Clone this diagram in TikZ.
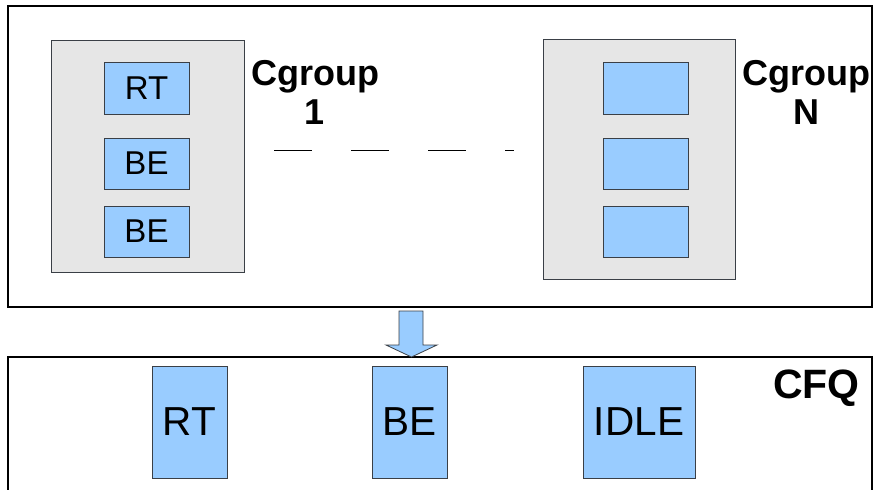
\documentclass[tikz,border=0pt]{standalone}
\usepackage{fontspec}
\setmainfont{Liberation Sans}
\definecolor{procblue}{HTML}{99CCFF}
\definecolor{groupgray}{HTML}{E6E6E6}
\definecolor{edgegray}{HTML}{3A3F46}
\begin{document}
\begin{tikzpicture}[x=1pt,y=-1pt,
  frame/.style={draw=black, line width=1.2pt, rectangle, inner sep=0pt},
  groupbox/.style={draw=edgegray, line width=1pt, fill=groupgray, rectangle, inner sep=0pt,
    minimum width=#1},
  task/.style={draw=edgegray, line width=1pt, fill=procblue, rectangle, inner sep=0pt,
    minimum width=85pt, minimum height=51pt, font=\fontsize{33}{36}\selectfont},
  bigtask/.style={draw=edgegray, line width=1pt, fill=procblue, rectangle, inner sep=0pt,
    minimum width=#1, minimum height=112pt, font=\fontsize{40.5}{44}\selectfont},
  grouplabel/.style={inner sep=0pt, anchor=north, align=center,
    font=\bfseries\fontsize{36}{39}\selectfont},
  flowarrow/.style={draw=edgegray, line width=0.8pt, fill=procblue, line join=miter}
]
\useasboundingbox (0,0) rectangle (873,490);

% upper frame holding the cgroups
\node[frame, minimum width=864pt, minimum height=301pt] (upper) at (440,156.5) {};

% cgroup 1
\node[groupbox=193pt, minimum height=232pt] (g1) at (147.5,156) {};
\node[task, minimum height=52pt] (g1rt) at (146.5,88) {RT};
\node[task] (g1be) at (146.5,163.5) {BE};
\node[task] (g1be2) at (146.5,231.5) {BE};
\node[grouplabel] (g1lbl) at (315,60) {Cgroup\\1};

% cgroup N
\node[groupbox=192pt, minimum height=240pt] (gn) at (639,159) {};
\node[task, minimum height=52pt] (gna) at (645.5,88) {};
\node[task] (gnb) at (645.5,163.5) {};
\node[task] (gnc) at (645.5,231.5) {};
\node[grouplabel] (gnlbl) at (806,60) {Cgroup\\N};

% ellipsis between the cgroups
\coordinate (dstart) at (274,150);
\coordinate (dend) at (514,150);
\draw[line width=1pt, dash pattern=on 38pt off 39pt] (dstart) -- (dend);

% lower frame: CFQ run queues (open at the bottom)
\draw[line width=1.2pt] (8,492) -- (8,357) -- (872,357) -- (872,492);
\node[inner sep=0pt, anchor=north, font=\bfseries\fontsize{41}{44}\selectfont] (cfq) at (816.5,370) {CFQ};
\node[bigtask=75pt] (qrt) at (189.5,422) {RT};
\node[bigtask=75pt] (qbe) at (409.5,422) {BE};
\node[bigtask=112pt] (qidle) at (639,422) {IDLE};

% block arrow from the cgroups down to CFQ
\coordinate (atip) at (411.5,357);
\draw[flowarrow] (atip) -- ++(25.5,-12) -- ++(-14,0) -- ++(0,-34) -- ++(-24,0)
  -- ++(0,34) -- ++(-13,0) -- cycle;
\end{tikzpicture}
\end{document}
